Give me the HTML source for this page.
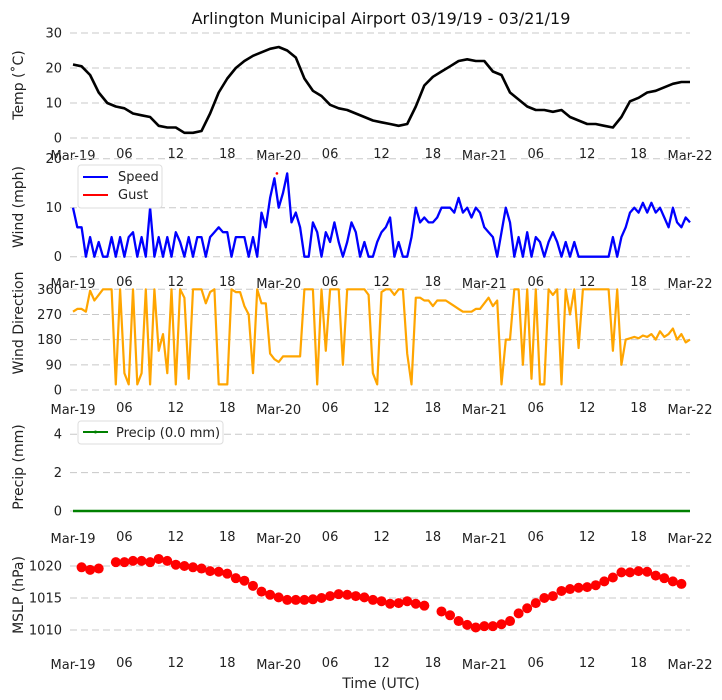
<!DOCTYPE html>
<html><head><meta charset="utf-8"><style>
html,body{margin:0;padding:0;background:#fff;}
svg{display:block;font-family:"DejaVu Sans","Liberation Sans",sans-serif;}
</style></head><body>
<svg id="chart" width="722" height="700" viewBox="0 0 722 700"></svg>
<script>
// ---- data (hour offsets from Mar-19 00 UTC) ----
const tempHours = [0,1,2,3,4,5,6,7,8,9,10,11,12,13,14,15,16,17,18,19,20,21,22,23,24,25,26,27,28,29,30,31,32,33,34,35,36,37,38,39,40,41,42,43,44,45,46,47,48,49,50,51,52,53,54,55,56,57,58,59,60,61,62,63,64,65,66,67,68,69,70,71,72];
const tempValues = [21,20.5,18,13,10,9,8.5,7,6.5,6,3.5,3,3,1.5,1.5,2,7,13,17,20,22,23.5,24.5,25.5,26,25,23,17,13.5,12,9.5,8.5,8,7,6,5,4.5,4,3.5,4,9,15,17.5,19,20.5,22,22.5,22,22,19,18,13,11,9,8,8,7.5,8,6,5,4,4,3.5,3,6,10.5,11.5,13,13.5,14.5,15.5,16,16];
// wind speed & direction: half-hourly samples
const windSpeed = [10,6,6,0,4,0,3,0,0,4,0,4,0,4,5,0,4,0,10,0,4,0,4,0,5,3,0,4,0,4,4,0,4,5,6,5,5,0,4,4,4,0,4,0,9,6,12,16,10,13,17,7,9,6,0,0,7,5,0,5,3,7,3,0,3,7,5,0,3,0,0,3,5,6,8,0,3,0,0,4,10,7,8,7,7,8,10,10,10,9,12,9,10,8,10,9,6,5,4,0,5,10,7,0,4,0,5,0,4,3,0,3,5,3,0,3,0,3,0,0,0,0,0,0,0,0,4,0,4,6,9,10,9,11,9,11,9,10,8,6,10,7,6,8,7];
const gustHours = [23.8];
const gustValues = [17];
const windDir = [280,290,290,280,355,320,340,360,360,360,20,360,60,20,360,20,60,360,20,360,140,200,60,360,20,360,330,40,360,360,360,310,350,360,20,20,20,360,350,350,300,270,60,360,310,310,130,110,100,120,120,120,120,120,360,360,360,20,360,140,360,360,360,90,360,360,360,360,360,340,60,20,350,360,360,340,360,360,130,20,330,330,320,320,300,320,320,320,310,300,290,280,280,280,290,290,310,330,300,320,20,180,180,360,360,90,360,40,360,20,20,360,340,360,20,360,270,360,150,360,360,360,360,360,360,360,140,360,90,180,185,190,185,195,190,200,180,210,190,200,220,180,200,170,180];
const precipValues = [0,0,0,0,0,0,0,0,0,0,0,0,0];
const mslpHours = [1,2,3,5,6,7,8,9,10,11,12,13,14,15,16,17,18,19,20,21,22,23,24,25,26,27,28,29,30,31,32,33,34,35,36,37,38,39,40,41,43,44,45,46,47,48,49,50,51,52,53,54,55,56,57,58,59,60,61,62,63,64,65,66,67,68,69,70,71];
const mslpValues = [1019.8,1019.4,1019.6,1020.6,1020.6,1020.8,1020.8,1020.6,1021.1,1020.8,1020.2,1020.0,1019.8,1019.6,1019.2,1019.1,1018.8,1018.1,1017.7,1016.9,1016.0,1015.5,1015.1,1014.7,1014.7,1014.7,1014.8,1015.0,1015.3,1015.6,1015.5,1015.3,1015.1,1014.7,1014.5,1014.1,1014.2,1014.5,1014.1,1013.8,1012.9,1012.3,1011.4,1010.8,1010.4,1010.6,1010.6,1010.9,1011.4,1012.6,1013.4,1014.2,1015.0,1015.3,1016.1,1016.4,1016.6,1016.7,1017.0,1017.6,1018.2,1019.0,1019.0,1019.2,1019.1,1018.5,1018.1,1017.6,1017.2];
const xTickHours = [0,6,12,18,24,30,36,42,48,54,60,66,72];
const xTickLabels = ["Mar-19","06","12","18","Mar-20","06","12","18","Mar-21","06","12","18","Mar-22"];
const tempTicks = [0,10,20,30];
const windTicks = [0,10,20];
const dirTicks = [0,90,180,270,360];
const precipTicks = [0,2,4];
const mslpTicks = [1010,1015,1020];

const svg = document.getElementById('chart');
const NS = 'http://www.w3.org/2000/svg';
function mk(tag, attrs, parent){
  const e = document.createElementNS(NS, tag);
  for (const k in attrs) e.setAttribute(k, attrs[k]);
  (parent||svg).appendChild(e);
  return e;
}
const X0 = 73, X1 = 690;
function xs(h){ return X0 + h*(X1-X0)/72; }
const yT = v => 138 - v*3.5;
const yW = v => 256.7 - v*4.9;
const yD = v => 390 - v*(100.7/360);
const yP = v => 511 - v*19.2;
const yM = v => 630 - (v-1010)*6.4;

function grid(ticks, yf, name){
  ticks.forEach(t=>{
    const l = mk('line',{x1:X0-3,x2:X1,y1:yf(t),y2:yf(t),stroke:'#c8c8c8','stroke-width':1,'stroke-dasharray':'7,4'});
    
    
    const tx = mk('text',{x:62,y:yf(t)+4.5,'text-anchor':'end','font-size':13,fill:'#222'});
    tx.textContent = t;
    
    
  });
}
function xticks(y, name){
  xTickHours.forEach((h,i)=>{
    const major = xTickLabels[i].startsWith('Mar');
    const tx = mk('text',{x:xs(h),y:y+(major?2:0),'text-anchor':'middle','font-size':13,fill:'#222'});
    tx.textContent = xTickLabels[i];
    
    
  });
}
function ylabel(text, cy, name){
  const tx = mk('text',{x:0,y:0,'text-anchor':'middle','font-size':14,fill:'#222',transform:`translate(23,${cy}) rotate(-90)`});
  tx.textContent = text;
  
  
}
function poly(xsArr, ysArr, color, w, name){
  const pts = xsArr.map((x,i)=>x.toFixed(1)+','+ysArr[i].toFixed(1)).join(' ');
  const p = mk('polyline',{points:pts,fill:'none',stroke:color,'stroke-width':w,'stroke-linejoin':'round'});
  
  
  return p;
}

// title
const title = mk('text',{x:381,y:24,'text-anchor':'middle','font-size':16,fill:'#111'});
title.textContent = 'Arlington Municipal Airport 03/19/19 - 03/21/19';



// panel 1 temp
grid(tempTicks, yT, 'temp');
xticks(158, 'temp');
ylabel('Temp (˚C)', 85, 'temp-y-axis-title');
poly(tempHours.map(xs), tempValues.map(yT), '#000', 2.6, 'temp-line');

// panel 2 wind
grid(windTicks, yW, 'wind');
xticks(286, 'wind');
ylabel('Wind (mph)', 207, 'wind-y-axis-title');
poly(windSpeed.map((v,i)=>xs(i*0.5)), windSpeed.map(yW), '#0000ff', 2.3, 'wind-speed-line');
gustHours.forEach((h,i)=>{
  const c = mk('circle',{cx:xs(h),cy:yW(gustValues[i]),r:1.3,fill:'#ff0000'});
  
  
});
const lg = mk('g',{});


mk('rect',{x:78,y:165,width:84,height:43,rx:3,fill:'#fff',stroke:'#ddd'},lg);
mk('line',{x1:83,x2:108,y1:177,y2:177,stroke:'#0000ff','stroke-width':2},lg);
mk('line',{x1:83,x2:108,y1:195,y2:195,stroke:'#ff0000','stroke-width':2},lg);
const l1 = mk('text',{x:118,y:181,'font-size':13,fill:'#222'},lg); l1.textContent='Speed';


const l2 = mk('text',{x:118,y:199,'font-size':13,fill:'#222'},lg); l2.textContent='Gust';



// panel 3 direction
grid(dirTicks, yD, 'direction');
xticks(412, 'direction');
ylabel('Wind Direction', 323, 'direction-y-axis-title');
poly(windDir.map((v,i)=>xs(i*0.5)), windDir.map(yD), '#ffa500', 2.2, 'wind-direction-line');

// panel 4 precip
grid(precipTicks, yP, 'precip');
xticks(541, 'precip');
ylabel('Precip (mm)', 467, 'precip-y-axis-title');
poly(precipValues.map((v,i)=>xs(i*6)), precipValues.map(yP), '#008000', 2.5, 'precip-line');
const pl = mk('g',{});


mk('rect',{x:78,y:421,width:145,height:23,rx:3,fill:'#fff',stroke:'#ddd'},pl);
mk('line',{x1:83,x2:108,y1:432,y2:432,stroke:'#008000','stroke-width':2},pl);
mk('circle',{cx:95.5,cy:432,r:1.5,fill:'#008000'},pl);
const pt = mk('text',{x:116,y:437,'font-size':13,fill:'#222'},pl); pt.textContent='Precip (0.0 mm)';



// panel 5 mslp
grid(mslpTicks, yM, 'mslp');
xticks(667, 'mslp');
ylabel('MSLP (hPa)', 595, 'mslp-y-axis-title');
mslpHours.forEach((h,i)=>{
  const c = mk('circle',{cx:xs(h),cy:yM(mslpValues[i]),r:5,fill:'#ff0000'});
  
  
});

const xt = mk('text',{x:381,y:688,'text-anchor':'middle','font-size':14,fill:'#222'});
xt.textContent = 'Time (UTC)';


</script>
</body></html>
